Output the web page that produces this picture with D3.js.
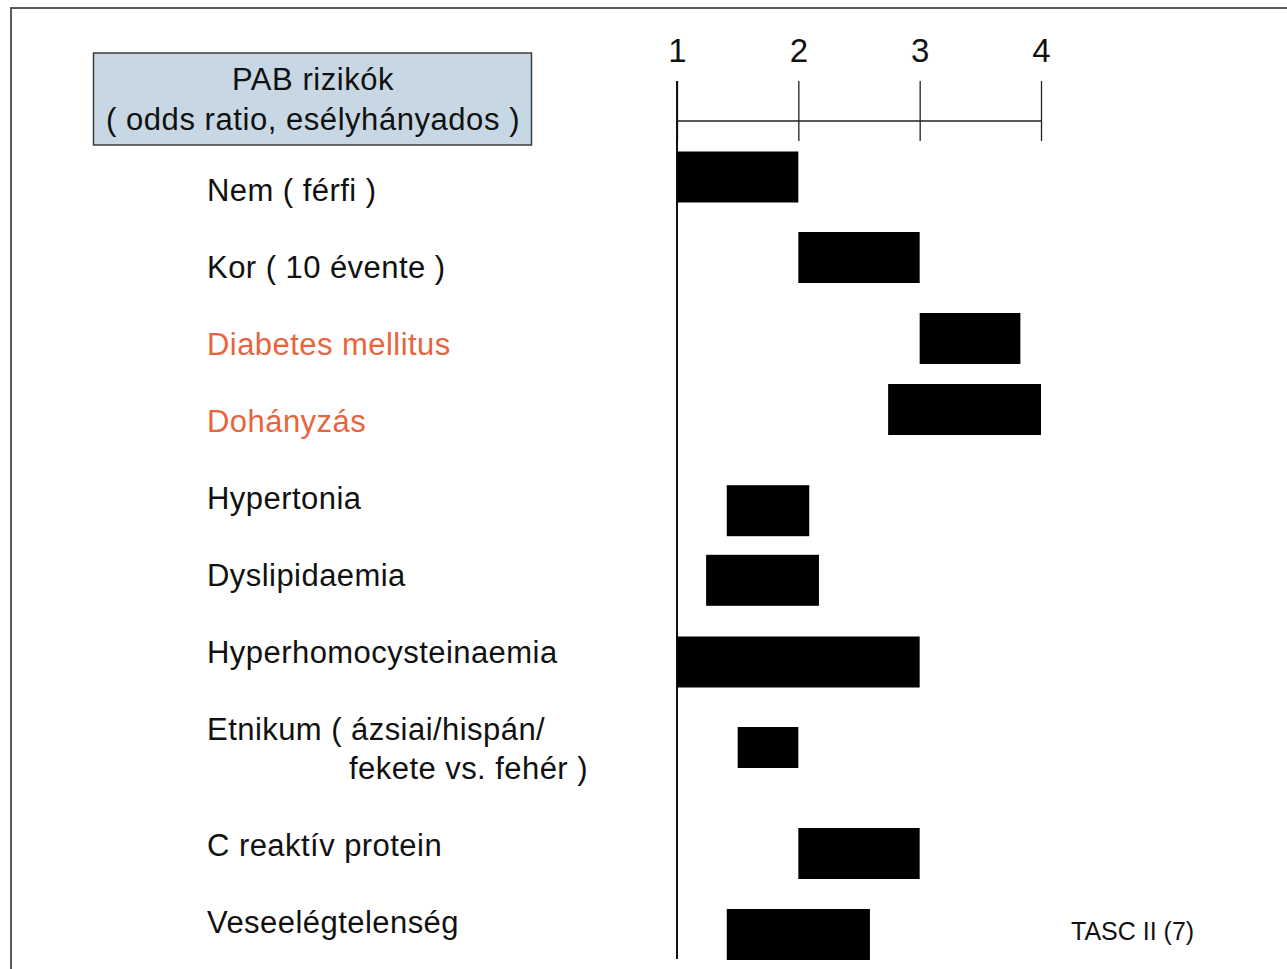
<!DOCTYPE html>
<html>
<head>
<meta charset="utf-8">
<script src="https://cdn.jsdelivr.net/npm/d3@7"></script>
<style>
  body { margin: 0; background: #fff; }
  svg { display: block; font-family: "Liberation Sans", Arial, sans-serif; }
</style>
</head>
<body>
<div id="chart"></div>
<script>
// risk factors and their odds ratio ranges (TASC II)
var factors = [
    ["Nem ( férfi )"],
    ["Kor ( 10 évente )"],
    ["Diabetes mellitus"],
    ["Dohányzás"],
    ["Hypertonia"],
    ["Dyslipidaemia"],
    ["Hyperhomocysteinaemia"],
    ["Etnikum ( ázsiai/hispán/", "fekete vs. fehér )"],
    ["C reaktív protein"],
    ["Veseelégtelenség"]
];
var oddsLow  = [1.0, 2.0, 3.0, 2.74, 1.41, 1.24, 1.0, 1.5, 2.0, 1.41];
var oddsHigh = [2.0, 3.0, 3.83, 4.0, 2.09, 2.17, 3.0, 2.0, 3.0, 2.59];
var highlighted = ["Diabetes mellitus", "Dohányzás"];
var tickValues = [1, 2, 3, 4];
var titleLines = ["PAB rizikók", "( odds ratio, esélyhányados )"];
var sourceNote = "TASC II (7)";

var width = 1287, height = 969;

// layout: row slot of each label (two-line label takes 1.5 slots) and bar nudge in px
var rowSlot = [0, 1, 2, 3, 4, 5, 6, 7, 8.5, 9.5];
var barNudge = [-13, -9.5, -5.5, -11.5, 12.7, 5.3, 10, 18.5, 9, 13];
var barH = [51, 51, 51, 51, 51, 51, 51, 41, 51, 51];

var svg = d3.select("#chart")
    .append("svg")
    .attr("width", width)
    .attr("height", height);

svg.append("rect")
    .attr("width", "100%")
    .attr("height", "100%")
    .attr("fill", "white");

// slide frame (only top and left edges are visible)
svg.append("path")
    .attr("d", "M11," + height + "V8H" + width)
    .attr("fill", "none")
    .attr("stroke", "#5a5a5a")
    .attr("stroke-width", 2);

var x = d3.scaleLinear().domain([1, 4]).range([677, 1041]);
var y = d3.scaleLinear().domain([0, 9.5]).range([190, 921.5]);

// title box
svg.append("rect")
    .attr("x", 93.5)
    .attr("y", 53)
    .attr("width", 438)
    .attr("height", 92)
    .attr("fill", "#c7d8e4")
    .attr("stroke", "#3c3c3c")
    .attr("stroke-width", 1.5);

svg.selectAll("text.title")
    .data(titleLines)
    .enter().append("text")
    .attr("class", "title")
    .attr("x", 313)
    .attr("y", function(d, i) { return 90 + i * 40; })
    .attr("text-anchor", "middle")
    .attr("font-size", 31)
    .attr("letter-spacing", 0.55)
    .attr("fill", "#111")
    .text(function(d) { return d; });

// axis on top
var axis = d3.axisTop(x)
    .tickValues(tickValues)
    .tickSize(20)
    .tickPadding(0)
    .tickFormat(d3.format("d"));

var axisG = svg.append("g")
    .attr("transform", "translate(0,121)")
    .call(axis);

axisG.select(".domain").attr("d", "M" + x(1) + ",0H" + x(4)).attr("stroke", "#222").attr("stroke-width", 1.3);
axisG.selectAll(".tick line")
    .attr("y1", 20)
    .attr("y2", -40)
    .attr("stroke", "#222")
    .attr("stroke-width", 1.3);
axisG.selectAll(".tick text")
    .attr("y", -59)
    .attr("dy", 0)
    .attr("font-size", 33)
    .attr("font-family", "Liberation Sans, Arial, sans-serif")
    .attr("fill", "#111");

// baseline at odds ratio 1
svg.append("line")
    .attr("x1", x(1)).attr("x2", x(1))
    .attr("y1", 81).attr("y2", 959)
    .attr("stroke", "#111")
    .attr("stroke-width", 2);

// bars
svg.append("g")
    .selectAll("rect")
    .data(factors)
    .enter().append("rect")
    .attr("x", function(d, i) { return x(oddsLow[i]); })
    .attr("width", function(d, i) { return x(oddsHigh[i]) - x(oddsLow[i]); })
    .attr("y", function(d, i) { return y(rowSlot[i]) + barNudge[i] - barH[i] / 2; })
    .attr("height", function(d, i) { return barH[i]; })
    .attr("fill", "#000");

// labels
var labels = svg.append("g")
    .selectAll("text")
    .data(factors)
    .enter().append("text")
    .attr("font-size", 31)
    .attr("letter-spacing", 0.45)
    .attr("fill", function(d) { return highlighted.indexOf(d[0]) >= 0 ? "#e8643c" : "#111"; });

labels.selectAll("tspan")
    .data(function(d, i) { return d.map(function(t, j) { return { t: t, j: j, i: i }; }); })
    .enter().append("tspan")
    .attr("x", function(d) { return d.j ? 349 : 207; })
    .attr("y", function(d) { return y(rowSlot[d.i]) + 11 + d.j * 39; })
    .text(function(d) { return d.t; });

// source
svg.append("text")
    .attr("x", 1071)
    .attr("y", 940)
    .attr("font-size", 25)
    .attr("fill", "#111")
    .text(sourceNote);
</script>
</body>
</html>
